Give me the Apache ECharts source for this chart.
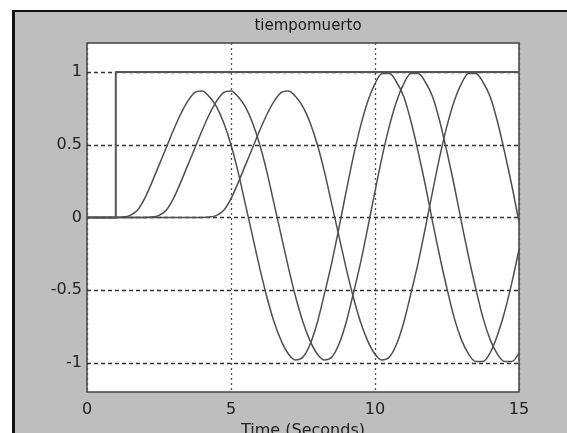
<!DOCTYPE html>
<html>
<head>
<meta charset="utf-8">
<script src="https://cdn.jsdelivr.net/npm/echarts@6/dist/echarts.min.js"></script>
<style>
  html, body { margin: 0; padding: 0; background: #ffffff; width: 567px; height: 433px; overflow: hidden; }
  #bg { position: absolute; left: 12px; top: 10px; width: 555px; height: 423px; background: #bebebe;
        border-top: 2px solid #111; border-left: 3px solid #111; box-sizing: border-box; }
  #chart { position: absolute; left: 0; top: 0; width: 567px; height: 433px; }
</style>
</head>
<body>
<div id="bg"></div>
<div id="chart"></div>
<script>
const titleText = 'tiempomuerto';
const xAxisName = 'Time (Seconds)';
const xTicks = [0, 5, 10, 15];
const yTicks = [-1, -0.5, 0, 0.5, 1];

const time = [0,0.25,0.5,0.75,1,1.25,1.5,1.75,2,2.25,2.5,2.75,3,3.25,3.5,3.75,4,4.25,4.5,4.75,5,5.25,5.5,5.75,6,6.25,6.5,6.75,7,7.25,7.5,7.75,8,8.25,8.5,8.75,9,9.25,9.5,9.75,10,10.25,10.5,10.75,11,11.25,11.5,11.75,12,12.25,12.5,12.75,13,13.25,13.5,13.75,14,14.25,14.5,14.75,15];

const stepT = [0, 1, 1, 15];
const stepV = [0, 0, 1, 1];

const respA = [0,0,0,0,0,0.003,0.015,0.05,0.13,0.24,0.36,0.48,0.60,0.71,0.80,0.86,0.87,0.83,0.76,0.65,0.50,0.31,0.09,-0.13,-0.35,-0.55,-0.72,-0.85,-0.94,-0.98,-0.96,-0.87,-0.72,-0.52,-0.31,-0.07,0.18,0.42,0.63,0.80,0.92,0.99,0.99,0.93,0.83,0.66,0.45,0.22,-0.03,-0.27,-0.49,-0.69,-0.84,-0.94,-0.99,-0.99,-0.93,-0.81,-0.65,-0.45,-0.22];

const respB = [0,0,0,0,0,0,0,0,0,0.003,0.015,0.05,0.13,0.24,0.36,0.48,0.60,0.71,0.80,0.86,0.87,0.83,0.76,0.65,0.50,0.31,0.09,-0.13,-0.35,-0.55,-0.72,-0.85,-0.94,-0.98,-0.96,-0.87,-0.72,-0.52,-0.31,-0.07,0.18,0.42,0.63,0.80,0.92,0.99,0.99,0.93,0.83,0.66,0.45,0.22,-0.03,-0.27,-0.49,-0.69,-0.84,-0.94,-0.99,-0.99,-0.93];

const respC = [0,0,0,0,0,0,0,0,0,0,0,0,0,0,0,0,0,0.003,0.015,0.05,0.13,0.24,0.36,0.48,0.60,0.71,0.80,0.86,0.87,0.83,0.76,0.65,0.50,0.31,0.09,-0.13,-0.35,-0.55,-0.72,-0.85,-0.94,-0.98,-0.96,-0.87,-0.72,-0.52,-0.31,-0.07,0.18,0.42,0.63,0.80,0.92,0.99,0.99,0.93,0.83,0.66,0.45,0.22,-0.03];

function pairs(xs, ys) { return xs.map((x, i) => [x, ys[i]]); }

const lineColor = '#4f4f4f';
const font = 'DejaVu Sans';

const chart = echarts.init(document.getElementById('chart'), null, { renderer: 'canvas' });
chart.setOption({
  animation: false,
  backgroundColor: 'transparent',
  title: {
    text: titleText,
    left: 303,
    textAlign: 'center',
    top: 14,
    textStyle: { fontFamily: font, fontSize: 15, fontWeight: 'normal', color: '#1a1a1a' }
  },
  grid: {
    left: 87, top: 43, right: 48, bottom: 41,
    containLabel: false, outerBoundsMode: 'none',
    show: true, backgroundColor: '#ffffff', borderColor: '#444', borderWidth: 1.5
  },
  xAxis: {
    type: 'value', min: 0, max: 15, interval: 5,
    name: xAxisName, nameLocation: 'middle', nameGap: 31,
    nameTextStyle: { fontFamily: font, fontSize: 16, color: '#222' },
    axisLine: { show: false },
    axisTick: { show: false },
    axisLabel: { fontFamily: font, fontSize: 16, color: '#222', margin: 10,
      customValues: xTicks },
    splitLine: { show: true, lineStyle: { color: '#555', width: 1.3, type: [2, 3] } }
  },
  yAxis: {
    type: 'value', min: -1.2, max: 1.2,
    axisLine: { show: false },
    axisTick: { show: false },
    axisLabel: { fontFamily: font, fontSize: 16, color: '#222', margin: 5,
      customValues: yTicks, formatter: v => String(v) },
    splitLine: { show: false }
  },
  series: [
    {
      type: 'line', data: pairs(stepT, stepV), showSymbol: false, z: 3,
      lineStyle: { color: '#555', width: 2 },
      markLine: {
        silent: true, symbol: 'none', label: { show: false }, z: 1,
        lineStyle: { color: '#333', width: 1.3, type: [4, 3] },
        data: yTicks.map(v => ({ yAxis: v }))
      }
    },
    { type: 'line', data: pairs(time, respA), showSymbol: false, smooth: 0.3, z: 4,
      lineStyle: { color: lineColor, width: 1.5 } },
    { type: 'line', data: pairs(time, respB), showSymbol: false, smooth: 0.3, z: 4,
      lineStyle: { color: lineColor, width: 1.5 } },
    { type: 'line', data: pairs(time, respC), showSymbol: false, smooth: 0.3, z: 4,
      lineStyle: { color: lineColor, width: 1.5 } }
  ]
});
</script>
</body>
</html>
